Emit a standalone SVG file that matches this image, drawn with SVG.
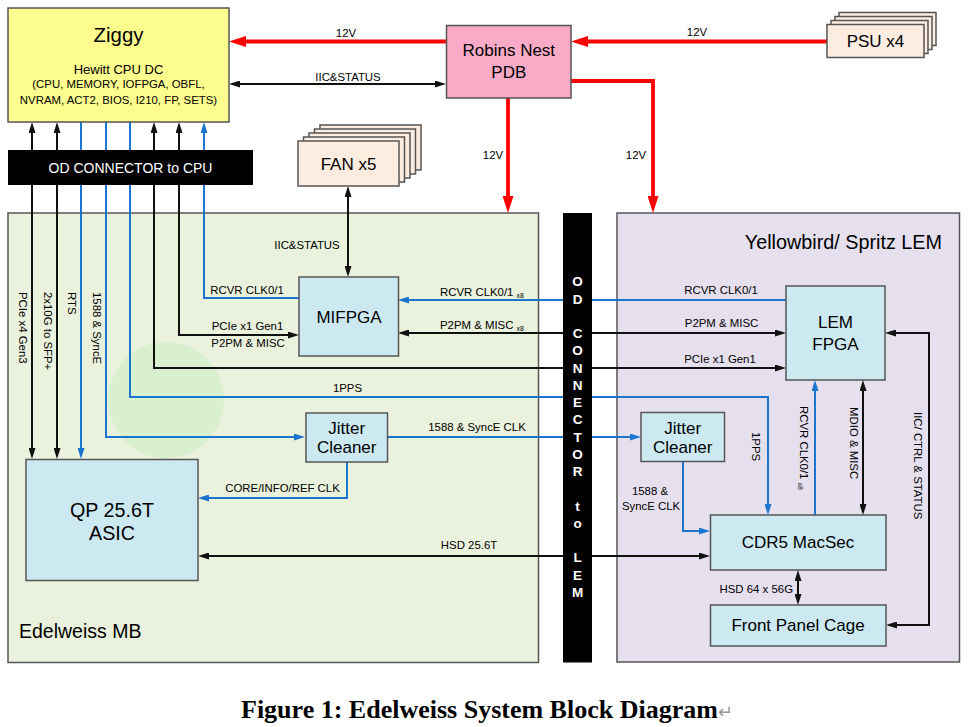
<svg xmlns="http://www.w3.org/2000/svg" width="969" height="727" viewBox="0 0 969 727">
<style>
text{font-family:"Liberation Sans",Arial,sans-serif;fill:#000}
.box{stroke:#555;stroke-width:1.5}
.yel{fill:#fdfd8e}
.pink{fill:#f9aac6}
.peach{fill:#fdece0}
.blue{fill:#cce9f2}
.s{font-size:11.4px}
.m{font-size:17px}
.c{text-anchor:middle}
.k{fill:none;stroke:#111;stroke-width:2}
.b{fill:none;stroke:#1a75cf;stroke-width:2}
.r{fill:none;stroke:#ff0000;stroke-width:3.8}
.sub{font-size:7px}
.wt{fill:#fff;font-size:13.5px;font-weight:bold;text-anchor:middle}
</style>
<defs>
<marker id="ak" viewBox="0 0 11 7" refX="8" refY="3.5" markerWidth="11" markerHeight="7" markerUnits="userSpaceOnUse" orient="auto-start-reverse"><path d="M0,0L11,3.5L0,7z" fill="#111"/></marker>
<marker id="ab" viewBox="0 0 11 7" refX="8" refY="3.5" markerWidth="11" markerHeight="7" markerUnits="userSpaceOnUse" orient="auto-start-reverse"><path d="M0,0L11,3.5L0,7z" fill="#1a75cf"/></marker>
<marker id="ar" viewBox="0 0 17 11" refX="10" refY="5.5" markerWidth="17" markerHeight="11" markerUnits="userSpaceOnUse" orient="auto-start-reverse"><path d="M0,0L17,5.5L0,11z" fill="#ff0000"/></marker>
</defs>
<rect width="969" height="727" fill="#fff"/>

<g id="edelweiss-mb">
<rect class="box" x="8" y="213" width="530.5" height="449.5" fill="#eaf1dc"/>
<circle cx="166" cy="400" r="58" fill="#d9f0cf"/>
<text x="19" y="638" style="font-size:19.5px">Edelweiss MB</text>
</g>
<g id="lem">
<rect class="box" x="617" y="213" width="342.5" height="449" fill="#e6dfee"/>
<text x="942" y="249" style="font-size:19.8px;text-anchor:end">Yellowbird/ Spritz LEM</text>
</g>

<g id="connectors">
<path class="r" d="M446,41.5H236" marker-end="url(#ar)"/>
<path class="r" d="M827,41.5H578" marker-end="url(#ar)"/>
<path class="r" d="M508,98V206" marker-end="url(#ar)"/>
<path class="r" d="M571,81H653V206" marker-end="url(#ar)"/>
<path class="k" d="M232,84H443" marker-start="url(#ak)" marker-end="url(#ak)"/>
<path class="k" d="M348,189V274" marker-start="url(#ak)" marker-end="url(#ak)"/>
<path class="k" d="M32,125V456" marker-start="url(#ak)" marker-end="url(#ak)"/>
<path class="k" d="M57,125V456" marker-start="url(#ak)" marker-end="url(#ak)"/>
<path class="b" d="M81,122V456" marker-end="url(#ab)"/>
<path class="b" d="M106,122V437H302" marker-end="url(#ab)"/>
<path class="b" d="M130,122V397H768V512" marker-end="url(#ab)"/>
<path class="k" d="M154,125V368H783" marker-start="url(#ak)" marker-end="url(#ak)"/>
<path class="k" d="M179,125V335H296" marker-start="url(#ak)" marker-end="url(#ak)"/>
<path class="b" d="M299,298H204V125" marker-end="url(#ab)"/>
<path class="b" d="M786,300H401" marker-end="url(#ab)"/>
<path class="k" d="M401,333H783" marker-start="url(#ak)" marker-end="url(#ak)"/>
<path class="b" d="M387,437H638" marker-end="url(#ab)"/>
<path class="b" d="M347,462V498H201" marker-end="url(#ab)"/>
<path class="k" d="M201,556H707" marker-start="url(#ak)" marker-end="url(#ak)"/>
<path class="b" d="M683,462V531H707" marker-end="url(#ab)"/>
<path class="b" d="M815,515V383" marker-end="url(#ab)"/>
<path class="k" d="M863,383V512" marker-start="url(#ak)" marker-end="url(#ak)"/>
<path class="k" d="M888,333H929V625H889" marker-start="url(#ak)" marker-end="url(#ak)"/>
<path class="k" d="M798,573V602" marker-start="url(#ak)" marker-end="url(#ak)"/>
<text class="s c" x="346" y="37">12V</text>
<text class="s c" x="348" y="81">IIC&amp;STATUS</text>
<text class="s c" x="697" y="36">12V</text>
<text class="s c" x="493" y="159">12V</text>
<text class="s c" x="636" y="159">12V</text>
<text class="s c" x="307" y="249">IIC&amp;STATUS</text>
<text class="s c" x="247" y="294">RCVR CLK0/1</text>
<text class="s c" x="247.5" y="330">PCIe x1 Gen1</text>
<text class="s c" x="248" y="347">P2PM &amp; MISC</text>
<text class="s" x="440" y="296">RCVR CLK0/1 <tspan class="sub" dy="2">x8</tspan></text>
<text class="s" x="440" y="329">P2PM &amp; MISC <tspan class="sub" dy="2">x8</tspan></text>
<text class="s c" x="721" y="294">RCVR CLK0/1</text>
<text class="s c" x="721.5" y="327">P2PM &amp; MISC</text>
<text class="s c" x="720" y="362.5">PCIe x1 Gen1</text>
<text class="s c" x="347.5" y="391.5">1PPS</text>
<text class="s c" x="477" y="430.5">1588 &amp; SyncE CLK</text>
<text class="s c" x="282.5" y="492">CORE/INFO/REF CLK</text>
<text class="s c" x="469" y="549">HSD 25.6T</text>
<text class="s" x="793" y="592.5" style="text-anchor:end">HSD 64 x 56G</text>
<text class="s c" x="650" y="495">1588 &amp;</text>
<text class="s c" x="651" y="510">SyncE CLK</text>
<text class="s" transform="translate(18.8,292) rotate(90)">PCIe x4 Gen3</text>
<text class="s" transform="translate(43.5,292) rotate(90)">2x10G to SFP+</text>
<text class="s" transform="translate(68,292) rotate(90)">RTS</text>
<text class="s" transform="translate(93,292) rotate(90)">1588 &amp; SyncE</text>
<text class="s" transform="translate(751.5,432) rotate(90)">1PPS</text>
<text class="s" transform="translate(800,406) rotate(90)">RCVR CLK0/1 <tspan class="sub" dy="2">x8</tspan></text>
<text class="s" transform="translate(849.5,407) rotate(90)">MDIO &amp; MISC</text>
<text class="s" transform="translate(913.5,412) rotate(90)">IIC/ CTRL &amp; STATUS</text>
</g>

<g id="od-connector-cpu">
<rect x="8" y="150" width="245" height="35" fill="#000"/>
<text x="130.5" y="172.5" style="fill:#fff;font-size:14px;text-anchor:middle">OD CONNECTOR to CPU</text>
</g>
<g id="od-connector-lem">
<rect x="563" y="213" width="29" height="449.5" fill="#000"/>
<text class="wt" x="577.5" y="286.2">O</text>
<text class="wt" x="577.5" y="303.5">D</text>
<text class="wt" x="577.5" y="338">C</text>
<text class="wt" x="577.5" y="355.2">O</text>
<text class="wt" x="577.5" y="372.5">N</text>
<text class="wt" x="577.5" y="389.7">N</text>
<text class="wt" x="577.5" y="407">E</text>
<text class="wt" x="577.5" y="424.2">C</text>
<text class="wt" x="577.5" y="441.5">T</text>
<text class="wt" x="577.5" y="458.7">O</text>
<text class="wt" x="577.5" y="476">R</text>
<text class="wt" x="577.5" y="510.5">t</text>
<text class="wt" x="577.5" y="527.7">o</text>
<text class="wt" x="577.5" y="562.2">L</text>
<text class="wt" x="577.5" y="579.5">E</text>
<text class="wt" x="577.5" y="596.7">M</text>
</g>

<g id="ziggy">
<rect class="box yel" x="8" y="8" width="221" height="114"/>
<text class="c" x="118.5" y="41.5" style="font-size:20.4px">Ziggy</text>
<text class="c" x="118.5" y="74" style="font-size:13px">Hewitt CPU DC</text>
<text class="c" x="118.5" y="88" style="font-size:11.4px">(CPU, MEMORY, IOFPGA, OBFL,</text>
<text class="c" x="118.5" y="104" style="font-size:11.4px">NVRAM, ACT2, BIOS, I210, FP, SETS)</text>
</g>
<g id="robins-nest-pdb">
<rect class="box pink" x="446.5" y="25.5" width="124.5" height="72.5"/>
<text class="c m" x="508.8" y="55.5">Robins Nest</text>
<text class="c m" x="508.8" y="78">PDB</text>
</g>
<g id="psu">
<rect class="box peach" x="839" y="12.5" width="97" height="33"/>
<rect class="box peach" x="835" y="16.5" width="97" height="33"/>
<rect class="box peach" x="831" y="20.5" width="97" height="33"/>
<rect class="box peach" x="827" y="24.5" width="97" height="33"/>
<text class="c m" x="875.5" y="46.5">PSU x4</text>
</g>
<g id="fan">
<rect class="box peach" x="320" y="125" width="101" height="45"/>
<rect class="box peach" x="314.5" y="129" width="101" height="45"/>
<rect class="box peach" x="309" y="133" width="101" height="45"/>
<rect class="box peach" x="303.5" y="137" width="101" height="45"/>
<rect class="box peach" x="298" y="141" width="101" height="45"/>
<text class="c m" x="348.5" y="169.5">FAN x5</text>
</g>
<g id="mifpga">
<rect class="box blue" x="299" y="277" width="99.5" height="79"/>
<text class="c m" x="349" y="322.5">MIFPGA</text>
</g>
<g id="jitter-cleaner-mb">
<rect class="box blue" x="306" y="413" width="81.5" height="49"/>
<text class="c m" x="346.7" y="434">Jitter</text>
<text class="c m" x="346.7" y="452.5">Cleaner</text>
</g>
<g id="asic">
<rect class="box blue" x="26" y="459.5" width="172" height="121"/>
<text class="c" x="112" y="516.5" style="font-size:19.7px">QP 25.6T</text>
<text class="c" x="112" y="539.5" style="font-size:19.7px">ASIC</text>
</g>
<g id="lem-fpga">
<rect class="box blue" x="786" y="286" width="99" height="94"/>
<text class="c m" x="835.5" y="328">LEM</text>
<text class="c m" x="835.5" y="350">FPGA</text>
</g>
<g id="jitter-cleaner-lem">
<rect class="box blue" x="641" y="412.5" width="83.5" height="49"/>
<text class="c m" x="682.7" y="433.5">Jitter</text>
<text class="c m" x="682.7" y="453">Cleaner</text>
</g>
<g id="cdr5-macsec">
<rect class="box blue" x="710.5" y="515" width="175.5" height="55"/>
<text class="c m" x="798" y="548">CDR5 MacSec</text>
</g>
<g id="front-panel-cage">
<rect class="box blue" x="710.5" y="605" width="175.5" height="41"/>
<text class="c m" x="798" y="630.5">Front Panel Cage</text>
</g>

<g id="caption">
<text x="241" y="718" style="font-family:'Liberation Serif','Times New Roman',serif;font-weight:bold;font-size:26px">Figure 1: Edelweiss System Block Diagram<tspan style="fill:#999;font-weight:normal;font-size:18px">↵</tspan></text>
</g>
</svg>
